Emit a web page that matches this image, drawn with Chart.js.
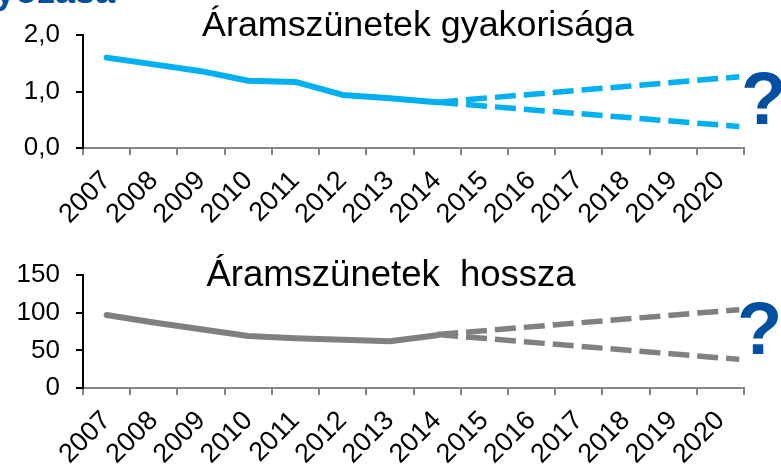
<!DOCTYPE html>
<html lang="hu">
<head>
  <meta charset="UTF-8" />
  <script src="https://cdn.jsdelivr.net/npm/chart.js"></script>
  <title>Áramszünetek</title>
  <style>
    html, body { margin: 0; padding: 0; background: #fff; }
    body { width: 781px; height: 465px; position: relative; overflow: hidden; font-family: 'Liberation Sans', Arial, sans-serif; }
    .box { position: absolute; left: 0; width: 781px; }
    .ttl { position: absolute; white-space: nowrap; color: #000; line-height: 36px; transform: translateX(-50%); }
    .q { position: absolute; color: #0050a2; font-weight: bold; font-size: 74px; line-height: 74px; }
    .head { position: absolute; left: 115px; top: -27px; transform: translateX(-100%); white-space: nowrap; color: #0050a2; font-weight: bold; font-size: 36px; line-height: 36px; }
  </style>
</head>
<body>
  <div class="head">Minőség szabályozása</div>

  <div class="box" style="top:0;height:240px"><canvas id="freqChart"></canvas></div>
  <div class="box" style="top:240px;height:225px"><canvas id="durChart"></canvas></div>

  <div class="ttl" style="left:418px;top:6px;font-size:35.8px">Áramszünetek gyakorisága</div>
  <div class="ttl" style="left:391px;top:256px;font-size:36.5px">Áramszünetek&nbsp; hossza</div>
  <div class="q" style="left:741px;top:62px">?</div>
  <div class="q" style="left:737px;top:292px">?</div>

  <script>
    // categories
    const years = ['2007', '2008', '2009', '2010', '2011', '2012', '2013', '2014',
      '2015', '2016', '2017', '2018', '2019', '2020'];

    // measured part (2007-2014)
    const pastYears = [2007, 2008, 2009, 2010, 2011, 2012, 2013, 2014];
    const freqPast = [1.6, 1.48, 1.36, 1.19, 1.17, 0.94, 0.88, 0.81];
    const durPast = [97, 87, 78, 69, 66, 64, 62, 70];

    // forecast branches (2014 -> 2020)
    const fcYears = [2014, 2020.4];
    const freqHigh = [0.81, 1.26];
    const freqLow = [0.81, 0.38];
    const durHigh = [71, 104];
    const durLow = [71, 38];

    // y tick values
    const freqTicks = [0, 1, 2];
    const durTicks = [0, 50, 100, 150];

    const toXY = (xs, ys) => xs.map((x, i) => ({ x: x, y: ys[i] }));

    function makeChart(id, h, color, past, hi, lo, ticks, fmt) {
      const solid = {
        data: toXY(pastYears, past), xAxisID: 'xl',
        borderColor: color, borderWidth: 6, pointRadius: 0,
        borderCapStyle: 'round', borderJoinStyle: 'round', tension: 0
      };
      const dash = (vals) => ({
        data: toXY(fcYears, vals), xAxisID: 'xl',
        borderColor: color, borderWidth: 5.5, pointRadius: 0,
        borderDash: [21, 8], borderCapStyle: 'butt', tension: 0
      });

      return new Chart(document.getElementById(id), {
        type: 'line',
        data: { labels: years, datasets: [solid, dash(hi), dash(lo)] },
        options: {
          responsive: true,
          maintainAspectRatio: false,
          animation: false,
          events: [],
          layout: { padding: { top: 35, right: 37, left: 0, bottom: 0 } },
          plugins: { legend: { display: false }, tooltip: { enabled: false } },
          scales: {
            x: {
              type: 'category',
              offset: true,
              afterFit: (s) => { s.height = h - 148; },
              border: { display: true, color: '#868686', width: 2 },
              grid: { offset: true, drawOnChartArea: false, drawTicks: true, tickLength: 7, color: '#868686', lineWidth: 2 },
              ticks: {
                color: '#000', maxRotation: 45, minRotation: 45, autoSkip: false, padding: 10,
                font: { family: 'Liberation Sans', size: 27 }
              }
            },
            xl: {
              type: 'linear', display: false, min: 2006.5, max: 2020.5
            },
            y: {
              min: ticks[0], max: ticks[ticks.length - 1],
              afterFit: (s) => { s.width = 83; },
              afterBuildTicks: (s) => { s.ticks = ticks.map(v => ({ value: v })); },
              border: { display: true, color: '#000', width: 2 },
              grid: { drawOnChartArea: false, drawTicks: true, tickLength: 7, color: '#000', lineWidth: 2 },
              ticks: {
                color: '#000', padding: 16,
                font: { family: 'Liberation Sans', size: 26 },
                callback: fmt
              }
            }
          }
        }
      });
    }

    makeChart('freqChart', 240, '#00b0f0', freqPast, freqHigh, freqLow, freqTicks,
      (v) => v.toFixed(1).replace('.', ','));
    makeChart('durChart', 225, '#808080', durPast, durHigh, durLow, durTicks,
      (v) => String(v));
  </script>
</body>
</html>
